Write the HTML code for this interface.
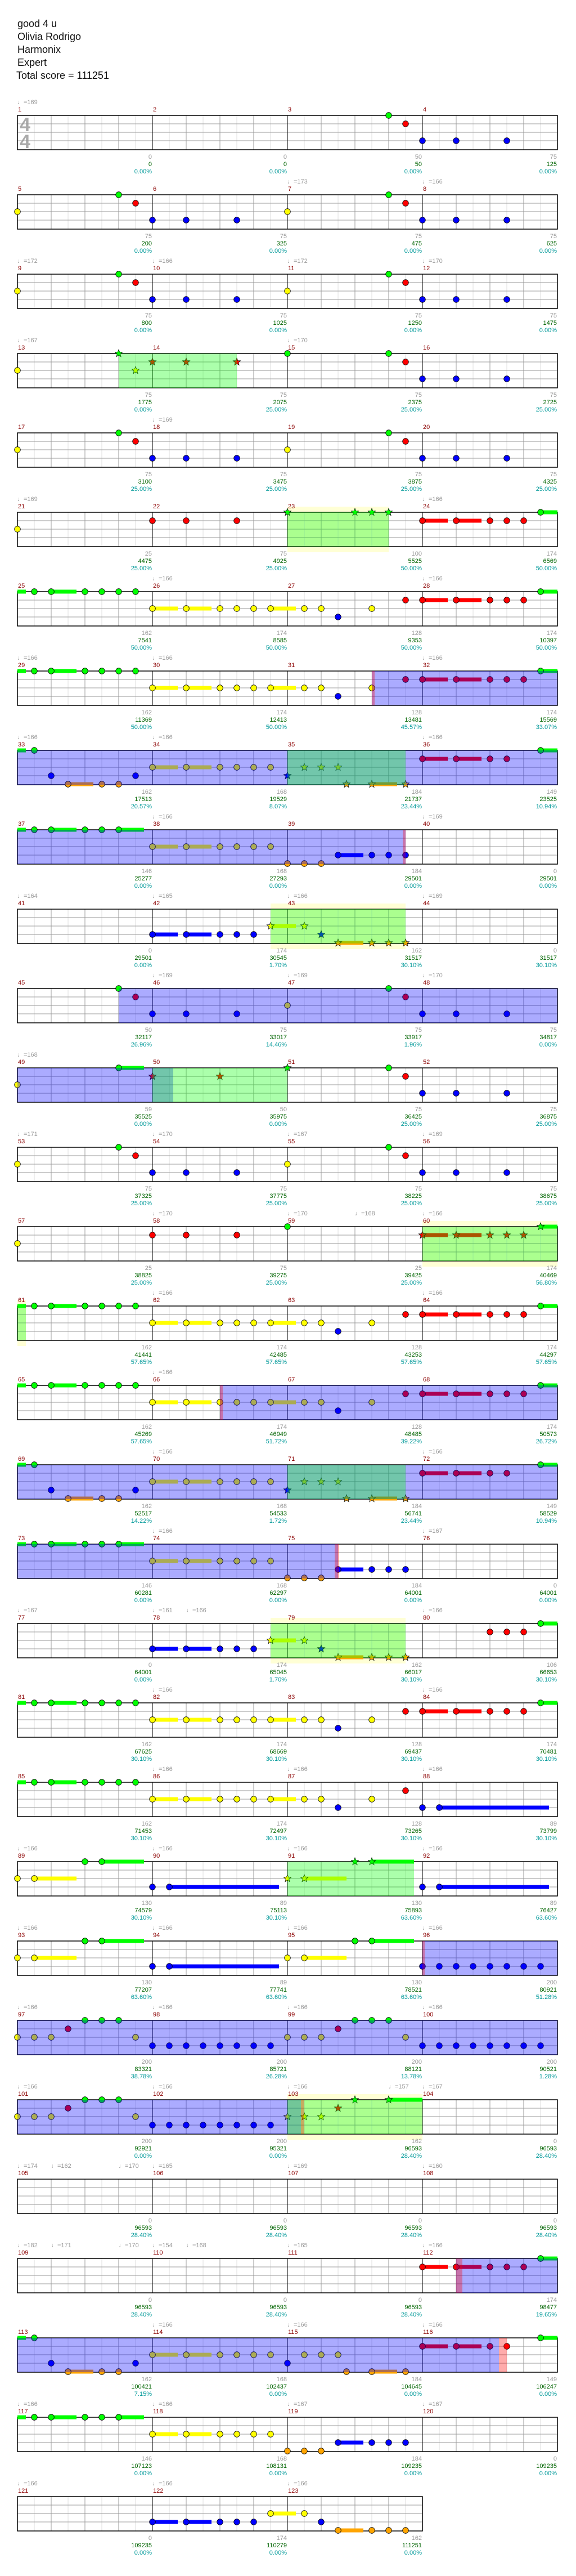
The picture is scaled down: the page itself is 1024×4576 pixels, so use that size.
<!DOCTYPE html>
<html><head><meta charset="utf-8"><style>
html,body{margin:0;padding:0;background:#fff}
svg{display:block}
text{font-family:"Liberation Sans",sans-serif;font-size:11px}
.h{font-size:18px;fill:#111}
.m{fill:#8b0000}.t{fill:#999}
.a{fill:#999;text-anchor:end}.b{fill:#006400;text-anchor:end}.c{fill:#009999;text-anchor:end}
.ts{font-size:34px;font-weight:bold;fill:#aaa}
</style></head><body>
<svg width="1024" height="4576" xmlns="http://www.w3.org/2000/svg" xmlns:xlink="http://www.w3.org/1999/xlink">
<defs>
<polygon id="s" points="0,-7 1.76,-2.43 6.66,-2.16 2.85,0.93 4.11,5.66 0,3 -4.11,5.66 -2.85,0.93 -6.66,-2.16 -1.76,-2.43" stroke="#000" stroke-width=".7"/>
<g id="st" fill="none">
<path d="M61 0v61M121 0v61M181 0v61M241 0v61M301 0v61M361 0v61M421 0v61M481 0v61M541 0v61M601 0v61M661 0v61M721 0v61M781 0v61M841 0v61M901 0v61M961 0v61" stroke="#ddd"/>
<path d="M91 0v61M151 0v61M211 0v61M331 0v61M391 0v61M451 0v61M571 0v61M631 0v61M691 0v61M811 0v61M871 0v61M931 0v61M31 15H991M31 30H991M31 45H991" stroke="#999"/>
<path d="M271 0v61M511 0v61M751 0v61" stroke="#000"/>
<rect x="31" y="0" width="960" height="61" stroke="#000" stroke-width="1.5"/>
</g>
<g id="st3" fill="none">
<path d="M61 0v61M121 0v61M181 0v61M241 0v61M301 0v61M361 0v61M421 0v61M481 0v61M541 0v61M601 0v61M661 0v61M721 0v61" stroke="#ddd"/>
<path d="M91 0v61M151 0v61M211 0v61M331 0v61M391 0v61M451 0v61M571 0v61M631 0v61M691 0v61M31 15H751M31 30H751M31 45H751" stroke="#999"/>
<path d="M271 0v61M511 0v61" stroke="#000"/>
<rect x="31" y="0" width="720" height="61" stroke="#000" stroke-width="1.5"/>
</g>
<g id="pS" stroke="#000" stroke-width=".8">
<circle cx="31" cy="30" r="5.3" fill="#ff0"/><circle cx="211" cy="0" r="5.3" fill="#0f0"/><circle cx="241" cy="15" r="5.3" fill="#f00"/>
<circle cx="271" cy="45" r="5.3" fill="#00f"/><circle cx="331" cy="45" r="5.3" fill="#00f"/><circle cx="421" cy="45" r="5.3" fill="#00f"/>
</g>
<g id="pE" stroke="#000" stroke-width=".8">
<circle cx="691" cy="0" r="5.3" fill="#0f0"/><circle cx="721" cy="15" r="5.3" fill="#f00"/>
<circle cx="751" cy="45" r="5.3" fill="#00f"/><circle cx="811" cy="45" r="5.3" fill="#00f"/><circle cx="901" cy="45" r="5.3" fill="#00f"/>
</g>
<g id="pA"><use href="#pS"/><use href="#pE"/><circle cx="511" cy="30" r="5.3" fill="#ff0" stroke="#000" stroke-width=".8"/></g>
<g id="pF1">
<rect x="31" y="-3.5" width="15" height="7" fill="#0f0"/><rect x="91" y="-3.5" width="45" height="7" fill="#0f0"/>
<rect x="271" y="26.5" width="45" height="7" fill="#ff0"/><rect x="331" y="26.5" width="45" height="7" fill="#ff0"/><rect x="481" y="26.5" width="45" height="7" fill="#ff0"/>
<g stroke="#000" stroke-width=".8">
<circle cx="61" cy="0" r="5.3" fill="#0f0"/><circle cx="91" cy="0" r="5.3" fill="#0f0"/><circle cx="151" cy="0" r="5.3" fill="#0f0"/><circle cx="181" cy="0" r="5.3" fill="#0f0"/><circle cx="211" cy="0" r="5.3" fill="#0f0"/><circle cx="241" cy="0" r="5.3" fill="#0f0"/>
<circle cx="271" cy="30" r="5.3" fill="#ff0"/><circle cx="331" cy="30" r="5.3" fill="#ff0"/><circle cx="391" cy="30" r="5.3" fill="#ff0"/><circle cx="421" cy="30" r="5.3" fill="#ff0"/><circle cx="451" cy="30" r="5.3" fill="#ff0"/><circle cx="481" cy="30" r="5.3" fill="#ff0"/><circle cx="541" cy="30" r="5.3" fill="#ff0"/><circle cx="571" cy="30" r="5.3" fill="#ff0"/>
<circle cx="601" cy="45" r="5.3" fill="#00f"/><circle cx="661" cy="30" r="5.3" fill="#ff0"/><circle cx="721" cy="15" r="5.3" fill="#f00"/>
</g></g>
<g id="pF2">
<rect x="751" y="11.5" width="45" height="7" fill="#f00"/><rect x="811" y="11.5" width="45" height="7" fill="#f00"/><rect x="961" y="-3.5" width="30" height="7" fill="#0f0"/>
<g stroke="#000" stroke-width=".8">
<circle cx="751" cy="15" r="5.3" fill="#f00"/><circle cx="811" cy="15" r="5.3" fill="#f00"/><circle cx="871" cy="15" r="5.3" fill="#f00"/><circle cx="901" cy="15" r="5.3" fill="#f00"/><circle cx="931" cy="15" r="5.3" fill="#f00"/><circle cx="961" cy="0" r="5.3" fill="#0f0"/>
</g></g>
<g id="p8s">
<rect x="31" y="-3.5" width="15" height="7" fill="#0f0"/><rect x="121" y="56.5" width="45" height="7" fill="#ffa500"/>
<rect x="271" y="26.5" width="45" height="7" fill="#ff0"/><rect x="331" y="26.5" width="45" height="7" fill="#ff0"/>
<g stroke="#000" stroke-width=".8">
<circle cx="61" cy="0" r="5.3" fill="#0f0"/><circle cx="91" cy="45" r="5.3" fill="#00f"/><circle cx="121" cy="60" r="5.3" fill="#ffa500"/><circle cx="181" cy="60" r="5.3" fill="#ffa500"/><circle cx="211" cy="60" r="5.3" fill="#ffa500"/><circle cx="241" cy="45" r="5.3" fill="#00f"/>
<circle cx="271" cy="30" r="5.3" fill="#ff0"/><circle cx="331" cy="30" r="5.3" fill="#ff0"/><circle cx="391" cy="30" r="5.3" fill="#ff0"/><circle cx="421" cy="30" r="5.3" fill="#ff0"/><circle cx="451" cy="30" r="5.3" fill="#ff0"/><circle cx="481" cy="30" r="5.3" fill="#ff0"/>
</g></g>
<g id="p8e">
<rect x="751" y="11.5" width="45" height="7" fill="#f00"/><rect x="811" y="11.5" width="45" height="7" fill="#f00"/><rect x="961" y="-3.5" width="30" height="7" fill="#0f0"/>
<g stroke="#000" stroke-width=".8">
<circle cx="751" cy="15" r="5.3" fill="#f00"/><circle cx="811" cy="15" r="5.3" fill="#f00"/><circle cx="871" cy="15" r="5.3" fill="#f00"/><circle cx="901" cy="15" r="5.3" fill="#f00"/><circle cx="961" cy="0" r="5.3" fill="#0f0"/>
</g></g>
<g id="p8m">
<rect x="661" y="56.5" width="45" height="7" fill="#ffa500"/>
<use href="#s" x="511" y="45" fill="#00f"/><use href="#s" x="541" y="30" fill="#ff0"/><use href="#s" x="571" y="30" fill="#ff0"/><use href="#s" x="601" y="30" fill="#ff0"/>
<use href="#s" x="616" y="60" fill="#ffa500"/><use href="#s" x="661" y="60" fill="#ffa500"/><use href="#s" x="721" y="60" fill="#ffa500"/>
</g>
<g id="p9">
<rect x="31" y="-3.5" width="15" height="7" fill="#0f0"/><rect x="91" y="-3.5" width="45" height="7" fill="#0f0"/><rect x="211" y="-3.5" width="45" height="7" fill="#0f0"/>
<rect x="271" y="26.5" width="45" height="7" fill="#ff0"/><rect x="331" y="26.5" width="45" height="7" fill="#ff0"/><rect x="601" y="41.5" width="45" height="7" fill="#00f"/>
<g stroke="#000" stroke-width=".8">
<circle cx="61" cy="0" r="5.3" fill="#0f0"/><circle cx="91" cy="0" r="5.3" fill="#0f0"/><circle cx="151" cy="0" r="5.3" fill="#0f0"/><circle cx="181" cy="0" r="5.3" fill="#0f0"/><circle cx="211" cy="0" r="5.3" fill="#0f0"/>
<circle cx="271" cy="30" r="5.3" fill="#ff0"/><circle cx="331" cy="30" r="5.3" fill="#ff0"/><circle cx="391" cy="30" r="5.3" fill="#ff0"/><circle cx="421" cy="30" r="5.3" fill="#ff0"/><circle cx="451" cy="30" r="5.3" fill="#ff0"/><circle cx="481" cy="30" r="5.3" fill="#ff0"/>
<circle cx="511" cy="60" r="5.3" fill="#ffa500"/><circle cx="541" cy="60" r="5.3" fill="#ffa500"/><circle cx="571" cy="60" r="5.3" fill="#ffa500"/>
<circle cx="601" cy="45" r="5.3" fill="#00f"/><circle cx="661" cy="45" r="5.3" fill="#00f"/><circle cx="691" cy="45" r="5.3" fill="#00f"/><circle cx="721" cy="45" r="5.3" fill="#00f"/>
</g></g>
<g id="p10">
<rect x="271" y="41.5" width="45" height="7" fill="#00f"/><rect x="331" y="41.5" width="45" height="7" fill="#00f"/>
<rect x="481" y="26.5" width="45" height="7" fill="#ff0"/><rect x="601" y="56.5" width="45" height="7" fill="#ffa500"/>
<g stroke="#000" stroke-width=".8">
<circle cx="271" cy="45" r="5.3" fill="#00f"/><circle cx="331" cy="45" r="5.3" fill="#00f"/><circle cx="391" cy="45" r="5.3" fill="#00f"/><circle cx="421" cy="45" r="5.3" fill="#00f"/><circle cx="451" cy="45" r="5.3" fill="#00f"/>
</g>
<use href="#s" x="481" y="30" fill="#ff0"/><use href="#s" x="541" y="30" fill="#ff0"/><use href="#s" x="571" y="45" fill="#00f"/>
<use href="#s" x="601" y="60" fill="#ffa500"/><use href="#s" x="661" y="60" fill="#ffa500"/><use href="#s" x="691" y="60" fill="#ffa500"/><use href="#s" x="721" y="60" fill="#ffa500"/>
</g>
<g id="p22a">
<rect x="61" y="26.5" width="75" height="7" fill="#ff0"/><rect x="181" y="-3.5" width="75" height="7" fill="#0f0"/><rect x="301" y="41.5" width="195" height="7" fill="#00f"/>
<rect x="541" y="26.5" width="75" height="7" fill="#ff0"/><rect x="661" y="-3.5" width="75" height="7" fill="#0f0"/>
<g stroke="#000" stroke-width=".8">
<circle cx="31" cy="30" r="5.3" fill="#ff0"/><circle cx="61" cy="30" r="5.3" fill="#ff0"/><circle cx="151" cy="0" r="5.3" fill="#0f0"/><circle cx="181" cy="0" r="5.3" fill="#0f0"/>
<circle cx="271" cy="45" r="5.3" fill="#00f"/><circle cx="301" cy="45" r="5.3" fill="#00f"/>
</g></g>
<g id="p24a" stroke="#000" stroke-width=".8">
<circle cx="31" cy="30" r="5.3" fill="#ff0"/><circle cx="61" cy="30" r="5.3" fill="#ff0"/><circle cx="91" cy="30" r="5.3" fill="#ff0"/><circle cx="121" cy="15" r="5.3" fill="#f00"/>
<circle cx="151" cy="0" r="5.3" fill="#0f0"/><circle cx="181" cy="0" r="5.3" fill="#0f0"/><circle cx="211" cy="0" r="5.3" fill="#0f0"/><circle cx="241" cy="30" r="5.3" fill="#ff0"/>
<circle cx="271" cy="45" r="5.3" fill="#00f"/><circle cx="301" cy="45" r="5.3" fill="#00f"/><circle cx="331" cy="45" r="5.3" fill="#00f"/><circle cx="361" cy="45" r="5.3" fill="#00f"/><circle cx="391" cy="45" r="5.3" fill="#00f"/><circle cx="421" cy="45" r="5.3" fill="#00f"/><circle cx="451" cy="45" r="5.3" fill="#00f"/><circle cx="481" cy="45" r="5.3" fill="#00f"/>
</g>
<g id="pB8" stroke="#000" stroke-width=".8">
<circle cx="751" cy="45" r="5.3" fill="#00f"/><circle cx="781" cy="45" r="5.3" fill="#00f"/><circle cx="811" cy="45" r="5.3" fill="#00f"/><circle cx="841" cy="45" r="5.3" fill="#00f"/><circle cx="871" cy="45" r="5.3" fill="#00f"/><circle cx="901" cy="45" r="5.3" fill="#00f"/><circle cx="931" cy="45" r="5.3" fill="#00f"/><circle cx="961" cy="45" r="5.3" fill="#00f"/>
</g>
</defs>

<text class="h" x="31" y="48">good 4 u</text>
<text class="h" x="31" y="71">Olivia Rodrigo</text>
<text class="h" x="31" y="94">Harmonix</text>
<text class="h" x="31" y="117">Expert</text>
<text class="h" x="29" y="140">Total score = 111251</text>

<!-- Row 0 -->
<g transform="translate(0,205)">
<text class="ts" x="35" y="28">4</text><text class="ts" x="35" y="58">4</text>
<use href="#st"/>
<g stroke="#000" stroke-width=".8"><circle cx="691" cy="0" r="5.3" fill="#0f0"/><circle cx="721" cy="15" r="5.3" fill="#f00"/><circle cx="751" cy="45" r="5.3" fill="#00f"/><circle cx="811" cy="45" r="5.3" fill="#00f"/><circle cx="901" cy="45" r="5.3" fill="#00f"/></g>
<text class="t" x="31" y="-20">♩=169</text>
<text class="m" x="32" y="-7">1</text><text class="m" x="272" y="-7">2</text><text class="m" x="512" y="-7">3</text><text class="m" x="752" y="-7">4</text>
<text class="a" x="270" y="77">0</text><text class="b" x="270" y="90">0</text><text class="c" x="270" y="103">0.00%</text>
<text class="a" x="510" y="77">0</text><text class="b" x="510" y="90">0</text><text class="c" x="510" y="103">0.00%</text>
<text class="a" x="750" y="77">50</text><text class="b" x="750" y="90">50</text><text class="c" x="750" y="103">0.00%</text>
<text class="a" x="990" y="77">75</text><text class="b" x="990" y="90">125</text><text class="c" x="990" y="103">0.00%</text>
</g>

<!-- Row 1 -->
<g transform="translate(0,346)">
<use href="#st"/><use href="#pA"/>
<text class="t" x="511" y="-20">♩=173</text><text class="t" x="751" y="-20">♩=166</text>
<text class="m" x="32" y="-7">5</text><text class="m" x="272" y="-7">6</text><text class="m" x="512" y="-7">7</text><text class="m" x="752" y="-7">8</text>
<text class="a" x="270" y="77">75</text><text class="b" x="270" y="90">200</text><text class="c" x="270" y="103">0.00%</text>
<text class="a" x="510" y="77">75</text><text class="b" x="510" y="90">325</text><text class="c" x="510" y="103">0.00%</text>
<text class="a" x="750" y="77">75</text><text class="b" x="750" y="90">475</text><text class="c" x="750" y="103">0.00%</text>
<text class="a" x="990" y="77">75</text><text class="b" x="990" y="90">625</text><text class="c" x="990" y="103">0.00%</text>
</g>

<!-- Row 2 -->
<g transform="translate(0,487)">
<use href="#st"/><use href="#pA"/>
<text class="t" x="31" y="-20">♩=172</text><text class="t" x="271" y="-20">♩=166</text><text class="t" x="511" y="-20">♩=172</text><text class="t" x="751" y="-20">♩=170</text>
<text class="m" x="32" y="-7">9</text><text class="m" x="272" y="-7">10</text><text class="m" x="512" y="-7">11</text><text class="m" x="752" y="-7">12</text>
<text class="a" x="270" y="77">75</text><text class="b" x="270" y="90">800</text><text class="c" x="270" y="103">0.00%</text>
<text class="a" x="510" y="77">75</text><text class="b" x="510" y="90">1025</text><text class="c" x="510" y="103">0.00%</text>
<text class="a" x="750" y="77">75</text><text class="b" x="750" y="90">1250</text><text class="c" x="750" y="103">0.00%</text>
<text class="a" x="990" y="77">75</text><text class="b" x="990" y="90">1475</text><text class="c" x="990" y="103">0.00%</text>
</g>

<!-- Row 3 -->
<g transform="translate(0,628)">
<use href="#st"/>
<g stroke="#000" stroke-width=".8"><circle cx="31" cy="30" r="5.3" fill="#ff0"/><circle cx="511" cy="0" r="5.3" fill="#0f0"/></g>
<use href="#s" x="211" y="0" fill="#0f0"/><use href="#s" x="241" y="30" fill="#ff0"/><use href="#s" x="271" y="15" fill="#f00"/><use href="#s" x="331" y="15" fill="#f00"/><use href="#s" x="421" y="15" fill="#f00"/>
<use href="#pE"/>
<rect x="211" y="0" width="210" height="61" fill="#0f0" opacity=".33"/>
<text class="t" x="31" y="-20">♩=167</text><text class="t" x="511" y="-20">♩=170</text>
<text class="m" x="32" y="-7">13</text><text class="m" x="272" y="-7">14</text><text class="m" x="512" y="-7">15</text><text class="m" x="752" y="-7">16</text>
<text class="a" x="270" y="77">75</text><text class="b" x="270" y="90">1775</text><text class="c" x="270" y="103">0.00%</text>
<text class="a" x="510" y="77">75</text><text class="b" x="510" y="90">2075</text><text class="c" x="510" y="103">25.00%</text>
<text class="a" x="750" y="77">75</text><text class="b" x="750" y="90">2375</text><text class="c" x="750" y="103">25.00%</text>
<text class="a" x="990" y="77">75</text><text class="b" x="990" y="90">2725</text><text class="c" x="990" y="103">25.00%</text>
</g>

<!-- Row 4 -->
<g transform="translate(0,769)">
<use href="#st"/><use href="#pA"/>
<text class="t" x="271" y="-20">♩=169</text>
<text class="m" x="32" y="-7">17</text><text class="m" x="272" y="-7">18</text><text class="m" x="512" y="-7">19</text><text class="m" x="752" y="-7">20</text>
<text class="a" x="270" y="77">75</text><text class="b" x="270" y="90">3100</text><text class="c" x="270" y="103">25.00%</text>
<text class="a" x="510" y="77">75</text><text class="b" x="510" y="90">3475</text><text class="c" x="510" y="103">25.00%</text>
<text class="a" x="750" y="77">75</text><text class="b" x="750" y="90">3875</text><text class="c" x="750" y="103">25.00%</text>
<text class="a" x="990" y="77">75</text><text class="b" x="990" y="90">4325</text><text class="c" x="990" y="103">25.00%</text>
</g>

<!-- Row 5 -->
<g transform="translate(0,910)">
<rect x="511" y="-10" width="180" height="81" fill="#ffffd5"/>
<use href="#st"/>
<g stroke="#000" stroke-width=".8"><circle cx="31" cy="30" r="5.3" fill="#ff0"/><circle cx="271" cy="15" r="5.3" fill="#f00"/><circle cx="331" cy="15" r="5.3" fill="#f00"/><circle cx="421" cy="15" r="5.3" fill="#f00"/></g>
<use href="#s" x="511" y="0" fill="#0f0"/><use href="#s" x="631" y="0" fill="#0f0"/><use href="#s" x="661" y="0" fill="#0f0"/><use href="#s" x="691" y="0" fill="#0f0"/>
<use href="#pF2"/>
<rect x="511" y="0" width="180" height="61" fill="#0f0" opacity=".33"/>
<text class="t" x="31" y="-20">♩=169</text><text class="t" x="751" y="-20">♩=166</text>
<text class="m" x="32" y="-7">21</text><text class="m" x="272" y="-7">22</text><text class="m" x="512" y="-7">23</text><text class="m" x="752" y="-7">24</text>
<text class="a" x="270" y="77">25</text><text class="b" x="270" y="90">4475</text><text class="c" x="270" y="103">25.00%</text>
<text class="a" x="510" y="77">75</text><text class="b" x="510" y="90">4925</text><text class="c" x="510" y="103">25.00%</text>
<text class="a" x="750" y="77">100</text><text class="b" x="750" y="90">5525</text><text class="c" x="750" y="103">50.00%</text>
<text class="a" x="990" y="77">174</text><text class="b" x="990" y="90">6569</text><text class="c" x="990" y="103">50.00%</text>
</g>

<!-- Row 6 -->
<g transform="translate(0,1051)">
<use href="#st"/><use href="#pF1"/><use href="#pF2"/>
<text class="t" x="271" y="-20">♩=166</text><text class="t" x="751" y="-20">♩=166</text>
<text class="m" x="32" y="-7">25</text><text class="m" x="272" y="-7">26</text><text class="m" x="512" y="-7">27</text><text class="m" x="752" y="-7">28</text>
<text class="a" x="270" y="77">162</text><text class="b" x="270" y="90">7541</text><text class="c" x="270" y="103">50.00%</text>
<text class="a" x="510" y="77">174</text><text class="b" x="510" y="90">8585</text><text class="c" x="510" y="103">50.00%</text>
<text class="a" x="750" y="77">128</text><text class="b" x="750" y="90">9353</text><text class="c" x="750" y="103">50.00%</text>
<text class="a" x="990" y="77">174</text><text class="b" x="990" y="90">10397</text><text class="c" x="990" y="103">50.00%</text>
</g>

<!-- Row 7 -->
<g transform="translate(0,1192)">
<use href="#st"/><use href="#pF1"/><use href="#pF2"/>
<rect x="661" y="0" width="330" height="61" fill="#00f" opacity=".33"/><rect x="661" y="0" width="5" height="61" fill="#f00" opacity=".33"/>
<text class="t" x="31" y="-20">♩=166</text><text class="t" x="271" y="-20">♩=166</text><text class="t" x="751" y="-20">♩=166</text>
<text class="m" x="32" y="-7">29</text><text class="m" x="272" y="-7">30</text><text class="m" x="512" y="-7">31</text><text class="m" x="752" y="-7">32</text>
<text class="a" x="270" y="77">162</text><text class="b" x="270" y="90">11369</text><text class="c" x="270" y="103">50.00%</text>
<text class="a" x="510" y="77">174</text><text class="b" x="510" y="90">12413</text><text class="c" x="510" y="103">50.00%</text>
<text class="a" x="750" y="77">128</text><text class="b" x="750" y="90">13481</text><text class="c" x="750" y="103">45.57%</text>
<text class="a" x="990" y="77">174</text><text class="b" x="990" y="90">15569</text><text class="c" x="990" y="103">33.07%</text>
</g>

<!-- Row 8 -->
<g transform="translate(0,1333)">
<use href="#st"/><use href="#p8s"/><use href="#p8m"/><use href="#p8e"/>
<rect x="31" y="0" width="960" height="61" fill="#00f" opacity=".33"/>
<rect x="511" y="0" width="210" height="61" fill="#0f0" opacity=".33"/>
<text class="t" x="31" y="-20">♩=166</text><text class="t" x="271" y="-20">♩=166</text><text class="t" x="751" y="-20">♩=166</text>
<text class="m" x="32" y="-7">33</text><text class="m" x="272" y="-7">34</text><text class="m" x="512" y="-7">35</text><text class="m" x="752" y="-7">36</text>
<text class="a" x="270" y="77">162</text><text class="b" x="270" y="90">17513</text><text class="c" x="270" y="103">20.57%</text>
<text class="a" x="510" y="77">168</text><text class="b" x="510" y="90">19529</text><text class="c" x="510" y="103">8.07%</text>
<text class="a" x="750" y="77">184</text><text class="b" x="750" y="90">21737</text><text class="c" x="750" y="103">23.44%</text>
<text class="a" x="990" y="77">149</text><text class="b" x="990" y="90">23525</text><text class="c" x="990" y="103">10.94%</text>
</g>

<!-- Row 9 -->
<g transform="translate(0,1474)">
<use href="#st"/><use href="#p9"/>
<rect x="31" y="0" width="690" height="61" fill="#00f" opacity=".33"/><rect x="716" y="0" width="5" height="61" fill="#f00" opacity=".33"/>
<text class="t" x="271" y="-20">♩=166</text><text class="t" x="751" y="-20">♩=169</text>
<text class="m" x="32" y="-7">37</text><text class="m" x="272" y="-7">38</text><text class="m" x="512" y="-7">39</text><text class="m" x="752" y="-7">40</text>
<text class="a" x="270" y="77">146</text><text class="b" x="270" y="90">25277</text><text class="c" x="270" y="103">0.00%</text>
<text class="a" x="510" y="77">168</text><text class="b" x="510" y="90">27293</text><text class="c" x="510" y="103">0.00%</text>
<text class="a" x="750" y="77">184</text><text class="b" x="750" y="90">29501</text><text class="c" x="750" y="103">0.00%</text>
<text class="a" x="990" y="77">0</text><text class="b" x="990" y="90">29501</text><text class="c" x="990" y="103">0.00%</text>
</g>

<!-- Row 10 -->
<g transform="translate(0,1615)">
<rect x="481" y="-10" width="240" height="81" fill="#ffffd5"/>
<use href="#st"/><use href="#p10"/>
<rect x="481" y="0" width="240" height="61" fill="#0f0" opacity=".33"/>
<text class="t" x="31" y="-20">♩=164</text><text class="t" x="271" y="-20">♩=165</text><text class="t" x="511" y="-20">♩=166</text><text class="t" x="751" y="-20">♩=169</text>
<text class="m" x="32" y="-7">41</text><text class="m" x="272" y="-7">42</text><text class="m" x="512" y="-7">43</text><text class="m" x="752" y="-7">44</text>
<text class="a" x="270" y="77">0</text><text class="b" x="270" y="90">29501</text><text class="c" x="270" y="103">0.00%</text>
<text class="a" x="510" y="77">174</text><text class="b" x="510" y="90">30545</text><text class="c" x="510" y="103">1.70%</text>
<text class="a" x="750" y="77">162</text><text class="b" x="750" y="90">31517</text><text class="c" x="750" y="103">30.10%</text>
<text class="a" x="990" y="77">0</text><text class="b" x="990" y="90">31517</text><text class="c" x="990" y="103">30.10%</text>
</g>

<!-- Row 11 -->
<g transform="translate(0,1756)">
<use href="#st"/>
<g stroke="#000" stroke-width=".8"><circle cx="211" cy="0" r="5.3" fill="#0f0"/><circle cx="241" cy="15" r="5.3" fill="#f00"/><circle cx="271" cy="45" r="5.3" fill="#00f"/><circle cx="331" cy="45" r="5.3" fill="#00f"/><circle cx="421" cy="45" r="5.3" fill="#00f"/><circle cx="511" cy="30" r="5.3" fill="#ff0"/></g>
<use href="#pE"/>
<rect x="211" y="0" width="780" height="61" fill="#00f" opacity=".33"/>
<text class="t" x="271" y="-20">♩=169</text><text class="t" x="511" y="-20">♩=169</text><text class="t" x="751" y="-20">♩=170</text>
<text class="m" x="32" y="-7">45</text><text class="m" x="272" y="-7">46</text><text class="m" x="512" y="-7">47</text><text class="m" x="752" y="-7">48</text>
<text class="a" x="270" y="77">50</text><text class="b" x="270" y="90">32117</text><text class="c" x="270" y="103">26.96%</text>
<text class="a" x="510" y="77">75</text><text class="b" x="510" y="90">33017</text><text class="c" x="510" y="103">14.46%</text>
<text class="a" x="750" y="77">75</text><text class="b" x="750" y="90">33917</text><text class="c" x="750" y="103">1.96%</text>
<text class="a" x="990" y="77">75</text><text class="b" x="990" y="90">34817</text><text class="c" x="990" y="103">0.00%</text>
</g>

<!-- Row 12 -->
<g transform="translate(0,1897)">
<use href="#st"/>
<rect x="211" y="-3.5" width="45" height="7" fill="#0f0"/>
<g stroke="#000" stroke-width=".8"><circle cx="31" cy="30" r="5.3" fill="#ff0"/><circle cx="211" cy="0" r="5.3" fill="#0f0"/></g>
<use href="#s" x="271" y="15" fill="#f00"/><use href="#s" x="391" y="15" fill="#f00"/><use href="#s" x="511" y="0" fill="#0f0"/>
<use href="#pE"/>
<rect x="31" y="0" width="277" height="61" fill="#00f" opacity=".33"/>
<rect x="271" y="0" width="240" height="61" fill="#0f0" opacity=".33"/>
<text class="t" x="31" y="-20">♩=168</text>
<text class="m" x="32" y="-7">49</text><text class="m" x="272" y="-7">50</text><text class="m" x="512" y="-7">51</text><text class="m" x="752" y="-7">52</text>
<text class="a" x="270" y="77">59</text><text class="b" x="270" y="90">35525</text><text class="c" x="270" y="103">0.00%</text>
<text class="a" x="510" y="77">50</text><text class="b" x="510" y="90">35975</text><text class="c" x="510" y="103">0.00%</text>
<text class="a" x="750" y="77">75</text><text class="b" x="750" y="90">36425</text><text class="c" x="750" y="103">25.00%</text>
<text class="a" x="990" y="77">75</text><text class="b" x="990" y="90">36875</text><text class="c" x="990" y="103">25.00%</text>
</g>

<!-- Row 13 -->
<g transform="translate(0,2038)">
<use href="#st"/><use href="#pA"/>
<text class="t" x="31" y="-20">♩=171</text><text class="t" x="271" y="-20">♩=170</text><text class="t" x="511" y="-20">♩=167</text><text class="t" x="751" y="-20">♩=169</text>
<text class="m" x="32" y="-7">53</text><text class="m" x="272" y="-7">54</text><text class="m" x="512" y="-7">55</text><text class="m" x="752" y="-7">56</text>
<text class="a" x="270" y="77">75</text><text class="b" x="270" y="90">37325</text><text class="c" x="270" y="103">25.00%</text>
<text class="a" x="510" y="77">75</text><text class="b" x="510" y="90">37775</text><text class="c" x="510" y="103">25.00%</text>
<text class="a" x="750" y="77">75</text><text class="b" x="750" y="90">38225</text><text class="c" x="750" y="103">25.00%</text>
<text class="a" x="990" y="77">75</text><text class="b" x="990" y="90">38675</text><text class="c" x="990" y="103">25.00%</text>
</g>

<!-- Row 14 -->
<g transform="translate(0,2179)">
<rect x="751" y="-10" width="240" height="81" fill="#ffffd5"/>
<use href="#st"/>
<g stroke="#000" stroke-width=".8"><circle cx="31" cy="30" r="5.3" fill="#ff0"/><circle cx="271" cy="15" r="5.3" fill="#f00"/><circle cx="331" cy="15" r="5.3" fill="#f00"/><circle cx="421" cy="15" r="5.3" fill="#f00"/><circle cx="511" cy="0" r="5.3" fill="#0f0"/></g>
<rect x="751" y="11.5" width="45" height="7" fill="#f00"/><rect x="811" y="11.5" width="45" height="7" fill="#f00"/><rect x="961" y="-3.5" width="30" height="7" fill="#0f0"/>
<use href="#s" x="751" y="15" fill="#f00"/><use href="#s" x="811" y="15" fill="#f00"/><use href="#s" x="871" y="15" fill="#f00"/><use href="#s" x="901" y="15" fill="#f00"/><use href="#s" x="931" y="15" fill="#f00"/><use href="#s" x="961" y="0" fill="#0f0"/>
<rect x="751" y="0" width="240" height="61" fill="#0f0" opacity=".33"/>
<text class="t" x="271" y="-20">♩=170</text><text class="t" x="511" y="-20">♩=170</text><text class="t" x="631" y="-20">♩=168</text><text class="t" x="751" y="-20">♩=166</text>
<text class="m" x="32" y="-7">57</text><text class="m" x="272" y="-7">58</text><text class="m" x="512" y="-7">59</text><text class="m" x="752" y="-7">60</text>
<text class="a" x="270" y="77">25</text><text class="b" x="270" y="90">38825</text><text class="c" x="270" y="103">25.00%</text>
<text class="a" x="510" y="77">75</text><text class="b" x="510" y="90">39275</text><text class="c" x="510" y="103">25.00%</text>
<text class="a" x="750" y="77">25</text><text class="b" x="750" y="90">39425</text><text class="c" x="750" y="103">25.00%</text>
<text class="a" x="990" y="77">174</text><text class="b" x="990" y="90">40469</text><text class="c" x="990" y="103">56.80%</text>
</g>

<!-- Row 15 -->
<g transform="translate(0,2320)">
<rect x="31" y="-10" width="15" height="81" fill="#ffffd5"/>
<use href="#st"/><use href="#pF1"/><use href="#pF2"/>
<rect x="31" y="0" width="15" height="61" fill="#0f0" opacity=".33"/>
<text class="t" x="271" y="-20">♩=166</text><text class="t" x="751" y="-20">♩=166</text>
<text class="m" x="32" y="-7">61</text><text class="m" x="272" y="-7">62</text><text class="m" x="512" y="-7">63</text><text class="m" x="752" y="-7">64</text>
<text class="a" x="270" y="77">162</text><text class="b" x="270" y="90">41441</text><text class="c" x="270" y="103">57.65%</text>
<text class="a" x="510" y="77">174</text><text class="b" x="510" y="90">42485</text><text class="c" x="510" y="103">57.65%</text>
<text class="a" x="750" y="77">128</text><text class="b" x="750" y="90">43253</text><text class="c" x="750" y="103">57.65%</text>
<text class="a" x="990" y="77">174</text><text class="b" x="990" y="90">44297</text><text class="c" x="990" y="103">57.65%</text>
</g>

<!-- Row 16 -->
<g transform="translate(0,2461)">
<use href="#st"/><use href="#pF1"/><use href="#pF2"/>
<rect x="391" y="0" width="600" height="61" fill="#00f" opacity=".33"/><rect x="391" y="0" width="5" height="61" fill="#f00" opacity=".33"/>
<text class="t" x="271" y="-20">♩=166</text>
<text class="m" x="32" y="-7">65</text><text class="m" x="272" y="-7">66</text><text class="m" x="512" y="-7">67</text><text class="m" x="752" y="-7">68</text>
<text class="a" x="270" y="77">162</text><text class="b" x="270" y="90">45269</text><text class="c" x="270" y="103">57.65%</text>
<text class="a" x="510" y="77">174</text><text class="b" x="510" y="90">46949</text><text class="c" x="510" y="103">51.72%</text>
<text class="a" x="750" y="77">128</text><text class="b" x="750" y="90">48485</text><text class="c" x="750" y="103">39.22%</text>
<text class="a" x="990" y="77">174</text><text class="b" x="990" y="90">50573</text><text class="c" x="990" y="103">26.72%</text>
</g>

<!-- Row 17 -->
<g transform="translate(0,2602)">
<use href="#st"/><use href="#p8s"/><use href="#p8m"/><use href="#p8e"/>
<rect x="31" y="0" width="960" height="61" fill="#00f" opacity=".33"/>
<rect x="511" y="0" width="210" height="61" fill="#0f0" opacity=".33"/>
<text class="t" x="271" y="-20">♩=166</text><text class="t" x="751" y="-20">♩=166</text>
<text class="m" x="32" y="-7">69</text><text class="m" x="272" y="-7">70</text><text class="m" x="512" y="-7">71</text><text class="m" x="752" y="-7">72</text>
<text class="a" x="270" y="77">162</text><text class="b" x="270" y="90">52517</text><text class="c" x="270" y="103">14.22%</text>
<text class="a" x="510" y="77">168</text><text class="b" x="510" y="90">54533</text><text class="c" x="510" y="103">1.72%</text>
<text class="a" x="750" y="77">184</text><text class="b" x="750" y="90">56741</text><text class="c" x="750" y="103">23.44%</text>
<text class="a" x="990" y="77">149</text><text class="b" x="990" y="90">58529</text><text class="c" x="990" y="103">10.94%</text>
</g>

<!-- Row 18 -->
<g transform="translate(0,2743)">
<use href="#st"/><use href="#p9"/>
<rect x="31" y="0" width="570" height="61" fill="#00f" opacity=".33"/><rect x="595" y="0" width="8" height="61" fill="#f00" opacity=".33"/>
<text class="t" x="271" y="-20">♩=166</text><text class="t" x="751" y="-20">♩=167</text>
<text class="m" x="32" y="-7">73</text><text class="m" x="272" y="-7">74</text><text class="m" x="512" y="-7">75</text><text class="m" x="752" y="-7">76</text>
<text class="a" x="270" y="77">146</text><text class="b" x="270" y="90">60281</text><text class="c" x="270" y="103">0.00%</text>
<text class="a" x="510" y="77">168</text><text class="b" x="510" y="90">62297</text><text class="c" x="510" y="103">0.00%</text>
<text class="a" x="750" y="77">184</text><text class="b" x="750" y="90">64001</text><text class="c" x="750" y="103">0.00%</text>
<text class="a" x="990" y="77">0</text><text class="b" x="990" y="90">64001</text><text class="c" x="990" y="103">0.00%</text>
</g>

<!-- Row 19 -->
<g transform="translate(0,2884)">
<rect x="481" y="-10" width="240" height="81" fill="#ffffd5"/>
<use href="#st"/><use href="#p10"/>
<rect x="961" y="-3.5" width="30" height="7" fill="#0f0"/>
<g stroke="#000" stroke-width=".8"><circle cx="871" cy="15" r="5.3" fill="#f00"/><circle cx="901" cy="15" r="5.3" fill="#f00"/><circle cx="931" cy="15" r="5.3" fill="#f00"/><circle cx="961" cy="0" r="5.3" fill="#0f0"/></g>
<rect x="481" y="0" width="240" height="61" fill="#0f0" opacity=".33"/>
<text class="t" x="31" y="-20">♩=167</text><text class="t" x="271" y="-20">♩=161</text><text class="t" x="331" y="-20">♩=166</text><text class="t" x="751" y="-20">♩=166</text>
<text class="m" x="32" y="-7">77</text><text class="m" x="272" y="-7">78</text><text class="m" x="512" y="-7">79</text><text class="m" x="752" y="-7">80</text>
<text class="a" x="270" y="77">0</text><text class="b" x="270" y="90">64001</text><text class="c" x="270" y="103">0.00%</text>
<text class="a" x="510" y="77">174</text><text class="b" x="510" y="90">65045</text><text class="c" x="510" y="103">1.70%</text>
<text class="a" x="750" y="77">162</text><text class="b" x="750" y="90">66017</text><text class="c" x="750" y="103">30.10%</text>
<text class="a" x="990" y="77">106</text><text class="b" x="990" y="90">66653</text><text class="c" x="990" y="103">30.10%</text>
</g>

<!-- Row 20 -->
<g transform="translate(0,3025)">
<use href="#st"/><use href="#pF1"/><use href="#pF2"/>
<text class="t" x="271" y="-20">♩=166</text><text class="t" x="751" y="-20">♩=166</text>
<text class="m" x="32" y="-7">81</text><text class="m" x="272" y="-7">82</text><text class="m" x="512" y="-7">83</text><text class="m" x="752" y="-7">84</text>
<text class="a" x="270" y="77">162</text><text class="b" x="270" y="90">67625</text><text class="c" x="270" y="103">30.10%</text>
<text class="a" x="510" y="77">174</text><text class="b" x="510" y="90">68669</text><text class="c" x="510" y="103">30.10%</text>
<text class="a" x="750" y="77">128</text><text class="b" x="750" y="90">69437</text><text class="c" x="750" y="103">30.10%</text>
<text class="a" x="990" y="77">174</text><text class="b" x="990" y="90">70481</text><text class="c" x="990" y="103">30.10%</text>
</g>

<!-- Row 21 -->
<g transform="translate(0,3166)">
<use href="#st"/><use href="#pF1"/>
<rect x="781" y="41.5" width="195" height="7" fill="#00f"/>
<g stroke="#000" stroke-width=".8"><circle cx="751" cy="45" r="5.3" fill="#00f"/><circle cx="781" cy="45" r="5.3" fill="#00f"/></g>
<text class="t" x="271" y="-20">♩=166</text><text class="t" x="511" y="-20">♩=166</text><text class="t" x="751" y="-20">♩=166</text>
<text class="m" x="32" y="-7">85</text><text class="m" x="272" y="-7">86</text><text class="m" x="512" y="-7">87</text><text class="m" x="752" y="-7">88</text>
<text class="a" x="270" y="77">162</text><text class="b" x="270" y="90">71453</text><text class="c" x="270" y="103">30.10%</text>
<text class="a" x="510" y="77">174</text><text class="b" x="510" y="90">72497</text><text class="c" x="510" y="103">30.10%</text>
<text class="a" x="750" y="77">128</text><text class="b" x="750" y="90">73265</text><text class="c" x="750" y="103">30.10%</text>
<text class="a" x="990" y="77">89</text><text class="b" x="990" y="90">73799</text><text class="c" x="990" y="103">30.10%</text>
</g>

<!-- Row 22 -->
<g transform="translate(0,3307)">
<use href="#st"/><use href="#p22a"/>
<use href="#s" x="511" y="30" fill="#ff0"/><use href="#s" x="541" y="30" fill="#ff0"/><use href="#s" x="631" y="0" fill="#0f0"/><use href="#s" x="661" y="0" fill="#0f0"/>
<rect x="781" y="41.5" width="195" height="7" fill="#00f"/>
<g stroke="#000" stroke-width=".8"><circle cx="751" cy="45" r="5.3" fill="#00f"/><circle cx="781" cy="45" r="5.3" fill="#00f"/></g>
<rect x="511" y="0" width="225" height="61" fill="#0f0" opacity=".33"/>
<text class="t" x="31" y="-20">♩=166</text><text class="t" x="271" y="-20">♩=166</text><text class="t" x="511" y="-20">♩=166</text><text class="t" x="751" y="-20">♩=166</text>
<text class="m" x="32" y="-7">89</text><text class="m" x="272" y="-7">90</text><text class="m" x="512" y="-7">91</text><text class="m" x="752" y="-7">92</text>
<text class="a" x="270" y="77">130</text><text class="b" x="270" y="90">74579</text><text class="c" x="270" y="103">30.10%</text>
<text class="a" x="510" y="77">89</text><text class="b" x="510" y="90">75113</text><text class="c" x="510" y="103">30.10%</text>
<text class="a" x="750" y="77">130</text><text class="b" x="750" y="90">75893</text><text class="c" x="750" y="103">63.60%</text>
<text class="a" x="990" y="77">89</text><text class="b" x="990" y="90">76427</text><text class="c" x="990" y="103">63.60%</text>
</g>

<!-- Row 23 -->
<g transform="translate(0,3448)">
<use href="#st"/><use href="#p22a"/>
<g stroke="#000" stroke-width=".8"><circle cx="511" cy="30" r="5.3" fill="#ff0"/><circle cx="541" cy="30" r="5.3" fill="#ff0"/><circle cx="631" cy="0" r="5.3" fill="#0f0"/><circle cx="661" cy="0" r="5.3" fill="#0f0"/></g>
<use href="#pB8"/>
<rect x="751" y="0" width="240" height="61" fill="#00f" opacity=".33"/><rect x="751" y="0" width="4" height="61" fill="#f00" opacity=".33"/>
<text class="t" x="31" y="-20">♩=166</text><text class="t" x="271" y="-20">♩=166</text><text class="t" x="511" y="-20">♩=166</text><text class="t" x="751" y="-20">♩=166</text>
<text class="m" x="32" y="-7">93</text><text class="m" x="272" y="-7">94</text><text class="m" x="512" y="-7">95</text><text class="m" x="752" y="-7">96</text>
<text class="a" x="270" y="77">130</text><text class="b" x="270" y="90">77207</text><text class="c" x="270" y="103">63.60%</text>
<text class="a" x="510" y="77">89</text><text class="b" x="510" y="90">77741</text><text class="c" x="510" y="103">63.60%</text>
<text class="a" x="750" y="77">130</text><text class="b" x="750" y="90">78521</text><text class="c" x="750" y="103">63.60%</text>
<text class="a" x="990" y="77">200</text><text class="b" x="990" y="90">80921</text><text class="c" x="990" y="103">51.28%</text>
</g>

<!-- Row 24 -->
<g transform="translate(0,3589)">
<use href="#st"/><use href="#p24a"/><use href="#p24a" transform="translate(480,0)"/>
<rect x="31" y="0" width="960" height="61" fill="#00f" opacity=".33"/>
<text class="t" x="31" y="-20">♩=166</text><text class="t" x="271" y="-20">♩=166</text><text class="t" x="511" y="-20">♩=166</text><text class="t" x="751" y="-20">♩=166</text>
<text class="m" x="32" y="-7">97</text><text class="m" x="272" y="-7">98</text><text class="m" x="512" y="-7">99</text><text class="m" x="752" y="-7">100</text>
<text class="a" x="270" y="77">200</text><text class="b" x="270" y="90">83321</text><text class="c" x="270" y="103">38.78%</text>
<text class="a" x="510" y="77">200</text><text class="b" x="510" y="90">85721</text><text class="c" x="510" y="103">26.28%</text>
<text class="a" x="750" y="77">200</text><text class="b" x="750" y="90">88121</text><text class="c" x="750" y="103">13.78%</text>
<text class="a" x="990" y="77">200</text><text class="b" x="990" y="90">90521</text><text class="c" x="990" y="103">1.28%</text>
</g>

<!-- Row 25 -->
<g transform="translate(0,3730)">
<rect x="511" y="-10" width="240" height="81" fill="#ffffd5"/>
<use href="#st"/><use href="#p24a"/>
<rect x="691" y="-3.5" width="60" height="7" fill="#0f0"/>
<use href="#s" x="511" y="30" fill="#ff0"/><use href="#s" x="541" y="30" fill="#ff0"/><use href="#s" x="571" y="30" fill="#ff0"/><use href="#s" x="601" y="15" fill="#f00"/><use href="#s" x="631" y="0" fill="#0f0"/><use href="#s" x="691" y="0" fill="#0f0"/>
<rect x="31" y="0" width="504" height="61" fill="#00f" opacity=".33"/>
<rect x="511" y="0" width="240" height="61" fill="#0f0" opacity=".33"/>
<rect x="535" y="0" width="6" height="61" fill="#f00" opacity=".33"/>
<text class="t" x="31" y="-20">♩=166</text><text class="t" x="271" y="-20">♩=166</text><text class="t" x="511" y="-20">♩=166</text><text class="t" x="691" y="-20">♩=157</text><text class="t" x="751" y="-20">♩=167</text>
<text class="m" x="32" y="-7">101</text><text class="m" x="272" y="-7">102</text><text class="m" x="512" y="-7">103</text><text class="m" x="752" y="-7">104</text>
<text class="a" x="270" y="77">200</text><text class="b" x="270" y="90">92921</text><text class="c" x="270" y="103">0.00%</text>
<text class="a" x="510" y="77">200</text><text class="b" x="510" y="90">95321</text><text class="c" x="510" y="103">0.00%</text>
<text class="a" x="750" y="77">162</text><text class="b" x="750" y="90">96593</text><text class="c" x="750" y="103">28.40%</text>
<text class="a" x="990" y="77">0</text><text class="b" x="990" y="90">96593</text><text class="c" x="990" y="103">28.40%</text>
</g>

<!-- Row 26 -->
<g transform="translate(0,3871)">
<use href="#st"/>
<text class="t" x="31" y="-20">♩=174</text><text class="t" x="91" y="-20">♩=162</text><text class="t" x="211" y="-20">♩=170</text><text class="t" x="271" y="-20">♩=165</text><text class="t" x="511" y="-20">♩=169</text><text class="t" x="751" y="-20">♩=160</text>
<text class="m" x="32" y="-7">105</text><text class="m" x="272" y="-7">106</text><text class="m" x="512" y="-7">107</text><text class="m" x="752" y="-7">108</text>
<text class="a" x="270" y="77">0</text><text class="b" x="270" y="90">96593</text><text class="c" x="270" y="103">28.40%</text>
<text class="a" x="510" y="77">0</text><text class="b" x="510" y="90">96593</text><text class="c" x="510" y="103">28.40%</text>
<text class="a" x="750" y="77">0</text><text class="b" x="750" y="90">96593</text><text class="c" x="750" y="103">28.40%</text>
<text class="a" x="990" y="77">0</text><text class="b" x="990" y="90">96593</text><text class="c" x="990" y="103">28.40%</text>
</g>

<!-- Row 27 -->
<g transform="translate(0,4012)">
<use href="#st"/><use href="#p8e"/>
<circle cx="931" cy="15" r="5.3" fill="#f00" stroke="#000" stroke-width=".8"/>
<rect x="811" y="0" width="180" height="61" fill="#00f" opacity=".33"/><rect x="811" y="0" width="11" height="61" fill="#f00" opacity=".33"/>
<text class="t" x="31" y="-20">♩=182</text><text class="t" x="91" y="-20">♩=171</text><text class="t" x="211" y="-20">♩=170</text><text class="t" x="271" y="-20">♩=154</text><text class="t" x="331" y="-20">♩=168</text><text class="t" x="511" y="-20">♩=165</text><text class="t" x="751" y="-20">♩=166</text>
<text class="m" x="32" y="-7">109</text><text class="m" x="272" y="-7">110</text><text class="m" x="512" y="-7">111</text><text class="m" x="752" y="-7">112</text>
<text class="a" x="270" y="77">0</text><text class="b" x="270" y="90">96593</text><text class="c" x="270" y="103">28.40%</text>
<text class="a" x="510" y="77">0</text><text class="b" x="510" y="90">96593</text><text class="c" x="510" y="103">28.40%</text>
<text class="a" x="750" y="77">0</text><text class="b" x="750" y="90">96593</text><text class="c" x="750" y="103">28.40%</text>
<text class="a" x="990" y="77">174</text><text class="b" x="990" y="90">98477</text><text class="c" x="990" y="103">19.65%</text>
</g>

<!-- Row 28 -->
<g transform="translate(0,4153)">
<use href="#st"/><use href="#p8s"/><use href="#p8e"/>
<rect x="661" y="56.5" width="45" height="7" fill="#ffa500"/>
<g stroke="#000" stroke-width=".8"><circle cx="511" cy="45" r="5.3" fill="#00f"/><circle cx="541" cy="30" r="5.3" fill="#ff0"/><circle cx="571" cy="30" r="5.3" fill="#ff0"/><circle cx="601" cy="30" r="5.3" fill="#ff0"/><circle cx="616" cy="60" r="5.3" fill="#ffa500"/><circle cx="661" cy="60" r="5.3" fill="#ffa500"/><circle cx="721" cy="60" r="5.3" fill="#ffa500"/></g>
<rect x="31" y="0" width="856" height="61" fill="#00f" opacity=".33"/><rect x="887" y="0" width="14" height="61" fill="#f00" opacity=".33"/>
<text class="t" x="271" y="-20">♩=166</text><text class="t" x="511" y="-20">♩=166</text><text class="t" x="751" y="-20">♩=166</text>
<text class="m" x="32" y="-7">113</text><text class="m" x="272" y="-7">114</text><text class="m" x="512" y="-7">115</text><text class="m" x="752" y="-7">116</text>
<text class="a" x="270" y="77">162</text><text class="b" x="270" y="90">100421</text><text class="c" x="270" y="103">7.15%</text>
<text class="a" x="510" y="77">168</text><text class="b" x="510" y="90">102437</text><text class="c" x="510" y="103">0.00%</text>
<text class="a" x="750" y="77">184</text><text class="b" x="750" y="90">104645</text><text class="c" x="750" y="103">0.00%</text>
<text class="a" x="990" y="77">149</text><text class="b" x="990" y="90">106247</text><text class="c" x="990" y="103">0.00%</text>
</g>

<!-- Row 29 -->
<g transform="translate(0,4294)">
<use href="#st"/><use href="#p9"/>
<text class="t" x="31" y="-20">♩=166</text><text class="t" x="271" y="-20">♩=166</text><text class="t" x="511" y="-20">♩=167</text><text class="t" x="751" y="-20">♩=167</text>
<text class="m" x="32" y="-7">117</text><text class="m" x="272" y="-7">118</text><text class="m" x="512" y="-7">119</text><text class="m" x="752" y="-7">120</text>
<text class="a" x="270" y="77">146</text><text class="b" x="270" y="90">107123</text><text class="c" x="270" y="103">0.00%</text>
<text class="a" x="510" y="77">168</text><text class="b" x="510" y="90">108131</text><text class="c" x="510" y="103">0.00%</text>
<text class="a" x="750" y="77">184</text><text class="b" x="750" y="90">109235</text><text class="c" x="750" y="103">0.00%</text>
<text class="a" x="990" y="77">0</text><text class="b" x="990" y="90">109235</text><text class="c" x="990" y="103">0.00%</text>
</g>

<!-- Row 30 -->
<g transform="translate(0,4435)">
<use href="#st3"/>
<rect x="271" y="41.5" width="45" height="7" fill="#00f"/><rect x="331" y="41.5" width="45" height="7" fill="#00f"/>
<rect x="481" y="26.5" width="45" height="7" fill="#ff0"/><rect x="601" y="56.5" width="45" height="7" fill="#ffa500"/>
<g stroke="#000" stroke-width=".8">
<circle cx="271" cy="45" r="5.3" fill="#00f"/><circle cx="331" cy="45" r="5.3" fill="#00f"/><circle cx="391" cy="45" r="5.3" fill="#00f"/><circle cx="421" cy="45" r="5.3" fill="#00f"/><circle cx="451" cy="45" r="5.3" fill="#00f"/>
<circle cx="481" cy="30" r="5.3" fill="#ff0"/><circle cx="541" cy="30" r="5.3" fill="#ff0"/><circle cx="571" cy="45" r="5.3" fill="#00f"/>
<circle cx="601" cy="60" r="5.3" fill="#ffa500"/><circle cx="661" cy="60" r="5.3" fill="#ffa500"/><circle cx="691" cy="60" r="5.3" fill="#ffa500"/><circle cx="721" cy="60" r="5.3" fill="#ffa500"/>
</g>
<text class="t" x="31" y="-20">♩=166</text><text class="t" x="271" y="-20">♩=166</text><text class="t" x="511" y="-20">♩=166</text>
<text class="m" x="32" y="-7">121</text><text class="m" x="272" y="-7">122</text><text class="m" x="512" y="-7">123</text>
<text class="a" x="270" y="77">0</text><text class="b" x="270" y="90">109235</text><text class="c" x="270" y="103">0.00%</text>
<text class="a" x="510" y="77">174</text><text class="b" x="510" y="90">110279</text><text class="c" x="510" y="103">0.00%</text>
<text class="a" x="750" y="77">162</text><text class="b" x="750" y="90">111251</text><text class="c" x="750" y="103">0.00%</text>
</g>
</svg>
</body></html>
